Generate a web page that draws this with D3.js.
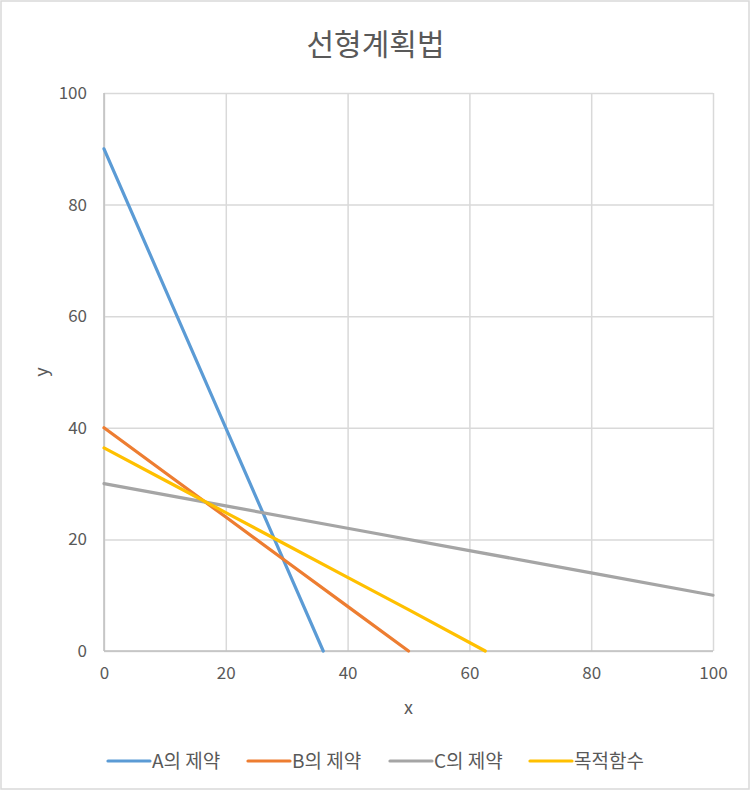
<!DOCTYPE html>
<html>
<head>
<meta charset="utf-8">
<script src="https://cdn.jsdelivr.net/npm/d3@7"></script>
<style>
  body { margin: 0; background: #fff; }
  svg text { font-family: "Noto Sans CJK KR", "Noto Sans", sans-serif; fill: #595959; }
</style>
</head>
<body>
<div id="chart"></div>
<script>
// Series
const seriesNames = ['A의 제약', 'B의 제약', 'C의 제약', '목적함수'];
const seriesColors = ['#5b9bd5', '#ed7d31', '#a5a5a5', '#ffc000'];

const aX = [0, 10, 20, 30, 36];
const aY = [90, 65, 40, 15, 0];
const bX = [0, 10, 20, 30, 40, 50];
const bY = [40, 32, 24, 16, 8, 0];
const cX = [0, 20, 40, 60, 80, 100];
const cY = [30, 26, 22, 18, 14, 10];
const objX = [0, 10, 20, 30, 40, 50, 62.6];
const objY = [36.4, 30.6, 24.8, 19, 13.2, 7.4, 0];

const xTicks = [0, 20, 40, 60, 80, 100];
const yTicks = [0, 20, 40, 60, 80, 100];

const W = 751, H = 792;
const margin = { top: 93, right: 38, bottom: 141, left: 104 };
const width = W - margin.left - margin.right;
const height = H - margin.top - margin.bottom;

const svg = d3.select('#chart').append('svg')
  .attr('width', W)
  .attr('height', H);

// Outer chart border
svg.append('rect')
  .attr('x', 1).attr('y', 1)
  .attr('width', W - 3).attr('height', H - 4)
  .attr('fill', '#fff')
  .attr('stroke', '#d9d9d9')
  .attr('stroke-width', 1.5);

// Title
svg.append('text')
  .attr('x', W / 2)
  .attr('y', 55)
  .attr('text-anchor', 'middle')
  .attr('font-size', '30px')
  .text('선형계획법');

const g = svg.append('g')
  .attr('transform', `translate(${margin.left},${margin.top})`);

const x = d3.scaleLinear().domain([0, 100]).range([0, width]);
const y = d3.scaleLinear().domain([0, 100]).range([height, 0]);

// Gridlines
g.append('g')
  .attr('transform', `translate(0,${height})`)
  .call(d3.axisBottom(x).tickValues(xTicks).tickSize(-height).tickFormat(''))
  .call(s => s.select('.domain').remove())
  .selectAll('line')
  .attr('stroke', '#d9d9d9')
  .attr('stroke-width', 1.5);

g.append('g')
  .call(d3.axisLeft(y).tickValues(yTicks).tickSize(-width).tickFormat(''))
  .call(s => s.select('.domain').remove())
  .selectAll('line')
  .attr('stroke', '#d9d9d9')
  .attr('stroke-width', 1.5);

// Axis lines
g.append('line')
  .attr('x1', 0).attr('x2', 0)
  .attr('y1', 0).attr('y2', height)
  .attr('stroke', '#bfbfbf')
  .attr('stroke-width', 1.5);
g.append('line')
  .attr('x1', 0).attr('x2', width)
  .attr('y1', height).attr('y2', height)
  .attr('stroke', '#bfbfbf')
  .attr('stroke-width', 1.5);

// Tick labels
const xAxis = g.append('g')
  .attr('transform', `translate(0,${height})`)
  .call(d3.axisBottom(x).tickValues(xTicks).tickSize(0).tickPadding(16));
xAxis.select('.domain').remove();
xAxis.attr('font-family', null);
xAxis.selectAll('text')
  .attr('font-size', '17px')
  .attr('fill', '#595959');

const yAxis = g.append('g')
  .call(d3.axisLeft(y).tickValues(yTicks).tickSize(0).tickPadding(17));
yAxis.select('.domain').remove();
yAxis.attr('font-family', null);
yAxis.selectAll('text')
  .attr('font-size', '17px')
  .attr('fill', '#595959');

// Axis titles
g.append('text')
  .attr('x', width / 2)
  .attr('y', height + 63)
  .attr('text-anchor', 'middle')
  .attr('font-size', '18px')
  .text('x');

g.append('text')
  .attr('transform', 'rotate(-90)')
  .attr('x', -height / 2)
  .attr('y', -56)
  .attr('text-anchor', 'middle')
  .attr('font-size', '18px')
  .text('y');

// Series lines
const seriesData = [
  d3.zip(aX, aY),
  d3.zip(bX, bY),
  d3.zip(cX, cY),
  d3.zip(objX, objY)
];

const line = d3.line()
  .x(d => x(d[0]))
  .y(d => y(d[1]));

seriesData.forEach((pts, i) => {
  g.append('path')
    .datum(pts)
    .attr('fill', 'none')
    .attr('stroke', seriesColors[i])
    .attr('stroke-width', 3.2)
    .attr('stroke-linejoin', 'round')
    .attr('stroke-linecap', 'round')
    .attr('d', line);
});

// Legend
const legendStart = [108, 248, 390, 530];
const legend = svg.append('g').attr('transform', 'translate(0,761)');
seriesNames.forEach((name, i) => {
  const item = legend.append('g')
    .attr('transform', `translate(${legendStart[i]},0)`);
  item.append('line')
    .attr('x1', 0).attr('x2', 42)
    .attr('y1', 0).attr('y2', 0)
    .attr('stroke', seriesColors[i])
    .attr('stroke-width', 3.2)
    .attr('stroke-linecap', 'round');
  item.append('text')
    .attr('x', 44)
    .attr('y', 0)
    .attr('dy', '0.35em')
    .attr('font-size', '19px')
    .text(name);
});
</script>
</body>
</html>
